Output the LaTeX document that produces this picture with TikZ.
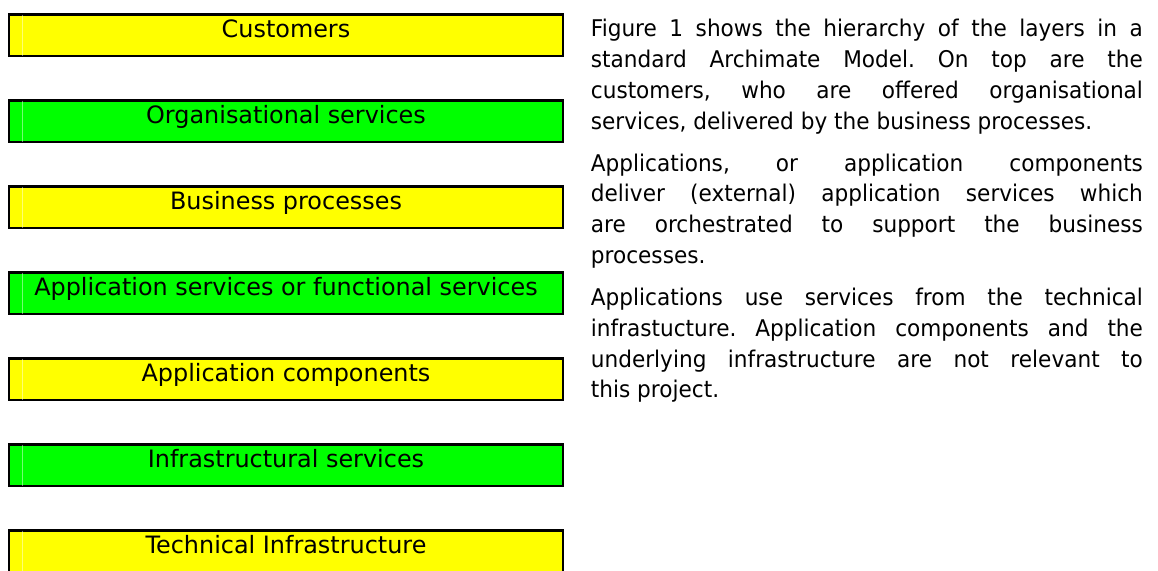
\documentclass[tikz,border=0pt]{standalone}
\usepackage{fontspec}
\setmainfont{DejaVu Sans}
\newfontfamily\bodyfont[FakeStretch=0.94]{DejaVu Sans}
\definecolor{layeryellow}{RGB}{255,255,0}
\definecolor{layergreen}{RGB}{0,255,0}

\begin{document}
\begin{tikzpicture}[x=1pt,y=-1pt,
  layer/.style={draw=black, line width=2.4pt, minimum width=553.6pt,
    minimum height=41.6pt, inner sep=0pt, text height=10pt, text depth=6pt,
    font=\fontsize{23.9}{28}\selectfont},
  yellowlayer/.style={layer, fill=layeryellow},
  greenlayer/.style={layer, fill=layergreen},
  sheen/.style={draw=white, draw opacity=0.45, line width=0.8pt,
    shorten >=1.2pt, shorten <=1.2pt},
  prose/.style={inner sep=0pt, text width=552pt, align=justify,
    font=\bodyfont\fontsize{23}{30.8}\selectfont}]

\useasboundingbox (0,0) rectangle (1158,570);

% stack of architecture layers
\node[yellowlayer] (cust)  at (286,35.3)  {Customers};
\node[greenlayer]  (orgsv) at (286,121.3) {Organisational services};
\node[yellowlayer] (bproc) at (286,207.3) {Business processes};
\node[greenlayer]  (appsv) at (286,293.3) {Application services or functional services};
\node[yellowlayer] (appco) at (286,379.3) {Application components};
\node[greenlayer]  (infsv) at (286,465.3) {Infrastructural services};
\node[yellowlayer] (techi) at (286,551.3) {Technical Infrastructure};

% faint highlight stripe near the left edge of each layer
\foreach \n in {cust,orgsv,bproc,appsv,appco,infsv,techi}
  \draw[sheen] ([xshift=14.1pt]\n.north west) -- ([xshift=14.1pt]\n.south west);

% explanatory text
\node[prose, anchor=base west] (explain) at (590.7,36.7) {%
  \hyphenpenalty=10000\frenchspacing\setlength{\parskip}{11.2pt}%
  Figure 1 shows the hierarchy of the layers in a\linebreak
  standard Archimate Model. On top are the\linebreak
  customers, who are offered organisational\linebreak
  services, delivered by the business processes.\par
  Applications, or application components\linebreak
  deliver (external) application services which\linebreak
  are orchestrated to support the business\linebreak
  processes.\par
  Applications use services from the technical\linebreak
  infrastucture. Application components and the\linebreak
  underlying infrastructure are not relevant to\linebreak
  this project.};
\end{tikzpicture}
\end{document}
